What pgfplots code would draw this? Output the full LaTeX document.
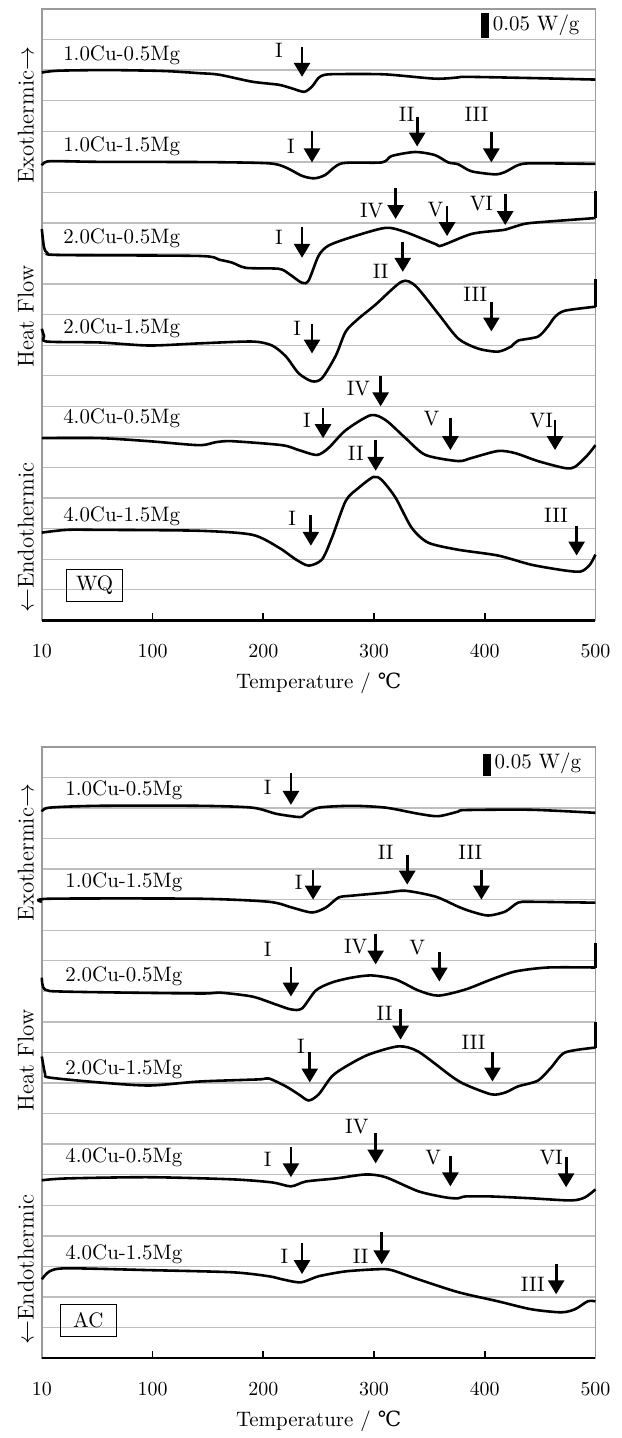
\documentclass[border=0pt]{standalone}
\usepackage{fontspec}
\usepackage{pgfplots}
\pgfplotsset{compat=1.18}
\usetikzlibrary{arrows.meta}
\newfontfamily\dejavu{DejaVu Serif}

\definecolor{gridgray}{HTML}{BEBEBE}
\definecolor{framegray}{HTML}{9A9A9A}

\pgfplotsset{
  dsc/.style={
    scale only axis, width=278pt, height=307pt,
    xmin=0, xmax=500, ymin=0, ymax=20,
    clip=false,
    xtick={0,100,...,500}, xticklabels={10,100,200,300,400,500},
    xtick pos=bottom, major tick length=3.5pt,
    x tick style={black, line width=0.9pt},
    ytick={1,...,19}, yticklabels={}, y tick style={draw=none},
    ymajorgrids, major grid style={draw=gridgray, line width=0.7pt},
    axis line style={draw=framegray, line width=0.8pt},
    tick label style={font=\fontsize{10}{12}\selectfont},
    xticklabel style={yshift=-8.5pt},
    xlabel={Temperature / {\dejavu ℃}},
    x label style={at={(axis description cs:0.5,0)}, anchor=center, yshift=-31.5pt,
      font=\fontsize{10.5}{12}\selectfont},
  },
  curve/.style={black, line width=1.3pt, smooth, tension=0.45, no marks},
  spike/.style={black, line width=1.3pt, no marks},
}
\tikzset{
  arr/.style={line width=1.4pt, -{Triangle[width=8pt,length=7pt]}},
  lab/.style={font=\fontsize{10.5}{12}\selectfont, inner sep=0pt},
  nm/.style={font=\fontsize{10.5}{12}\selectfont, inner sep=0pt, anchor=west},
  yl/.style={font=\fontsize{11.5}{13}\selectfont, rotate=90, anchor=center, inner sep=0pt},
}

\begin{document}
\begin{tikzpicture}
\path (0,0) rectangle (312pt,719pt);

% ---------------- WQ ----------------
\begin{axis}[dsc, at={(21pt,407.5pt)}, anchor=south west]
\addplot[curve] coordinates {(0,17.92) (15,17.98) (60,18.0) (110,17.97) (142,17.9) (160,17.85) (190,17.62) (214,17.52) (226,17.40) (237,17.29) (244,17.46) (250,17.75) (256,17.85) (270,17.87) (310,17.86) (355,17.72) (376,17.76) (383,17.78) (442,17.74) (500,17.69)};
\addplot[curve] coordinates {(0,14.88) (7,15.02) (50,15.0) (150,14.99) (205,14.95) (220,14.82) (235,14.54) (246,14.46) (256,14.57) (271,14.95) (307,14.98) (316,15.19) (337,15.32) (355,15.22) (367,14.98) (376,14.92) (388,14.69) (409,14.59) (418,14.66) (430,14.89) (442,14.95) (500,14.93)};
\addplot[curve] coordinates {(0,12.80) (2,12.2) (5,12.02) (16,11.95) (142,11.92) (160,11.80) (172,11.70) (184.5,11.53) (214,11.50) (223,11.34) (235,11.04) (241,11.12) (250,11.93) (259,12.26) (280,12.54) (310.5,12.84) (328.5,12.70) (355.5,12.31) (361,12.26) (388,12.64) (412,12.75) (418.5,12.78) (430,12.91) (442,13.0) (500,13.16)};
\addplot[spike] coordinates {(500,13.16) (500,14.05)};
\addplot[curve] coordinates {(0,9.54) (2,9.3) (4.5,9.12) (52,9.09) (97,8.99) (142,9.06) (190,9.12) (208,8.99) (220.5,8.63) (232,8.08) (244,7.82) (253,7.92) (265.5,8.66) (274.5,9.45) (286,9.87) (301.5,10.33) (325,11.08) (337.5,10.94) (358,10.03) (376,9.22) (394,8.89) (412,8.79) (424,8.96) (430,9.15) (448,9.28) (457,9.61) (463.5,9.93) (472.5,10.13) (500,10.26)};
\addplot[spike] coordinates {(500,10.26) (500,11.17)};
\addplot[curve] coordinates {(0,5.96) (52,5.96) (97,5.86) (142,5.73) (157.5,5.83) (172,5.86) (217,5.73) (232,5.57) (248.5,5.41) (259,5.64) (274.5,6.22) (297,6.71) (310.5,6.55) (328.5,5.96) (346.5,5.41) (376,5.21) (388,5.31) (412,5.54) (427.5,5.47) (448,5.21) (472.5,4.98) (481.5,5.02) (493,5.41) (500,5.73)};
\addplot[curve] coordinates {(0,2.87) (22.5,2.96) (52,2.96) (142,2.93) (190,2.80) (214,2.38) (229.5,1.99) (241,1.79) (253,1.99) (262,2.70) (274.5,3.91) (286,4.33) (299.5,4.69) (307,4.59) (319.5,4.01) (334,3.03) (349,2.54) (376,2.31) (412,2.12) (442,1.82) (472.5,1.63) (487,1.60) (495,1.82) (500,2.15)};

\draw[black, line width=1.2pt] (rel axis cs:0,0) -- (rel axis cs:1,0);
\fill[black] (axis cs:397,19.06) rectangle (axis cs:404,19.87);
\node[nm] at (axis cs:407,19.48) {0.05 W/g};
\node[draw=black, line width=0.6pt, minimum width=28pt, minimum height=16pt, inner sep=0pt,
  font=\fontsize{10.5}{12}\selectfont] at (axis cs:47.7,1.14) {WQ};

\node[nm] at (axis cs:19,18.50) {1.0Cu-0.5Mg};
\node[nm] at (axis cs:19,15.50) {1.0Cu-1.5Mg};
\node[nm] at (axis cs:19,12.51) {2.0Cu-0.5Mg};
\node[nm] at (axis cs:19,9.54) {2.0Cu-1.5Mg};
\node[nm] at (axis cs:19,6.61) {4.0Cu-0.5Mg};
\node[nm] at (axis cs:19,3.42) {4.0Cu-1.5Mg};

\draw[arr] (axis cs:235,18.76) -- (axis cs:235,17.78); \node[lab] at (axis cs:214,18.66) {I};
\draw[arr] (axis cs:244,16.0) -- (axis cs:244,14.98); \node[lab] at (axis cs:225,15.5) {I};
\draw[arr] (axis cs:339,16.48) -- (axis cs:339,15.5); \node[lab] at (axis cs:329.5,16.55) {II};
\draw[arr] (axis cs:406,15.99) -- (axis cs:406,14.98); \node[lab] at (axis cs:392.5,16.55) {III};
\draw[arr] (axis cs:235,12.87) -- (axis cs:235,11.86); \node[lab] at (axis cs:214,12.54) {I};
\draw[arr] (axis cs:319.5,14.14) -- (axis cs:319.5,13.13); \node[lab] at (axis cs:298,13.39) {IV};
\draw[arr] (axis cs:366,13.55) -- (axis cs:366,12.57); \node[lab] at (axis cs:355.5,13.45) {V};
\draw[arr] (axis cs:418.5,13.94) -- (axis cs:418.5,12.93); \node[lab] at (axis cs:397,13.62) {VI};
\draw[arr] (axis cs:244,9.71) -- (axis cs:244,8.73); \node[lab] at (axis cs:230.5,9.54) {I};
\draw[arr] (axis cs:326,12.38) -- (axis cs:326,11.40); \node[lab] at (axis cs:306,11.40) {II};
\draw[arr] (axis cs:406,10.42) -- (axis cs:406,9.45); \node[lab] at (axis cs:391.5,10.68) {III};
\draw[arr] (axis cs:254,6.94) -- (axis cs:254,5.96); \node[lab] at (axis cs:239.5,6.55) {I};
\draw[arr] (axis cs:306,7.98) -- (axis cs:306,7.0); \node[lab] at (axis cs:286,7.59) {IV};
\draw[arr] (axis cs:369,6.61) -- (axis cs:369,5.57); \node[lab] at (axis cs:352,6.61) {V};
\draw[arr] (axis cs:463.5,6.55) -- (axis cs:463.5,5.57); \node[lab] at (axis cs:451,6.55) {VI};
\draw[arr] (axis cs:243,3.45) -- (axis cs:243,2.44); \node[lab] at (axis cs:226,3.35) {I};
\draw[arr] (axis cs:301.5,5.90) -- (axis cs:301.5,4.89); \node[lab] at (axis cs:283.5,5.47) {II};
\draw[arr] (axis cs:483,3.09) -- (axis cs:483,2.12); \node[lab] at (axis cs:464.5,3.42) {III};

\node[yl] at ([xshift=-8pt]rel axis cs:0,0.826) {Exothermic$\rightarrow$};
\node[yl] at ([xshift=-8pt]rel axis cs:0,0.497) {Heat Flow};
\node[yl] at ([xshift=-8pt]rel axis cs:0,0.135) {$\leftarrow$Endothermic};
\end{axis}

% ---------------- AC ----------------
\begin{axis}[dsc, at={(21pt,37pt)}, anchor=south west]
\addplot[curve] coordinates {(0,17.88) (7,18.01) (52,18.07) (142,18.07) (190,18.01) (211.5,17.81) (229.5,17.71) (235,17.71) (238.5,17.81) (250,18.01) (280,18.07) (310.5,18.01) (340,17.81) (358,17.73) (376,17.88) (382.5,17.93) (442,17.94) (500,17.84)};
\addplot[curve] coordinates {(0,14.93) (7,15.03) (142,15.03) (205,14.93) (226,14.74) (244,14.58) (256.5,14.74) (268,15.07) (280,15.13) (310.5,15.23) (328.5,15.29) (355.5,15.10) (376,14.77) (388,14.61) (403,14.48) (418.5,14.61) (430,14.90) (442,14.93) (500,14.90)};
\addplot[curve] coordinates {(0,12.45) (2.7,12.06) (22.5,11.99) (142,11.93) (160,11.96) (190,11.83) (211.5,11.57) (225,11.41) (235,11.44) (247.5,12.03) (262,12.29) (280,12.45) (298,12.52) (319.5,12.39) (340,12.03) (358,11.86) (382.5,12.06) (406,12.39) (427.5,12.65) (457,12.78) (500,12.78)};
\addplot[spike] coordinates {(500,12.78) (500,13.59)};
\addplot[curve] coordinates {(0,9.87) (3,9.3) (7,9.18) (52,9.02) (97,8.92) (142,9.05) (196,9.12) (205,9.15) (220.5,8.89) (232,8.63) (241,8.43) (250,8.63) (262,9.22) (274.5,9.54) (295,9.93) (322,10.20) (340,10.03) (370,9.22) (382.5,8.95) (406,8.63) (418.5,8.69) (430,8.89) (448,9.08) (460,9.51) (472.5,10.0) (500,10.16)};
\addplot[spike] coordinates {(500,10.16) (500,11.01)};
\addplot[curve] coordinates {(0,5.82) (22.5,5.88) (97,5.92) (172,5.85) (208,5.75) (225,5.62) (238.5,5.78) (265.5,5.88) (292.5,6.01) (310.5,5.92) (340,5.46) (364.5,5.26) (376,5.23) (382.5,5.29) (406,5.29) (442,5.23) (478,5.16) (490.5,5.26) (500,5.52)};
\addplot[curve] coordinates {(0,2.58) (7,2.84) (22.5,2.94) (97,2.88) (172,2.81) (205,2.68) (217,2.58) (234,2.48) (250,2.68) (274.5,2.84) (304,2.91) (316,2.88) (340,2.58) (376,2.16) (412,1.86) (442,1.60) (469,1.50) (481.5,1.60) (493,1.86) (500,1.86)};

\draw[black, line width=1.2pt] (rel axis cs:0,0) -- (rel axis cs:1,0);
\fill[black] (axis cs:398.5,19.05) rectangle (axis cs:405.5,19.77);
\node[nm] at (axis cs:408.5,19.45) {0.05 W/g};
\node[draw=black, line width=0.6pt, minimum width=28pt, minimum height=16pt, inner sep=0pt,
  font=\fontsize{10.5}{12}\selectfont] at (axis cs:42,1.24) {AC};

\node[nm] at (axis cs:21,18.59) {1.0Cu-0.5Mg};
\node[nm] at (axis cs:21,15.56) {1.0Cu-1.5Mg};
\node[nm] at (axis cs:21,12.48) {2.0Cu-0.5Mg};
\node[nm] at (axis cs:21,9.44) {2.0Cu-1.5Mg};
\node[nm] at (axis cs:21,6.57) {4.0Cu-0.5Mg};
\node[nm] at (axis cs:21,3.40) {4.0Cu-1.5Mg};

\draw[arr] (axis cs:225,19.15) -- (axis cs:225,18.10); \node[lab] at (axis cs:204,18.66) {I};
\draw[arr] (axis cs:245,15.98) -- (axis cs:245,15.0); \node[lab] at (axis cs:232,15.56) {I};
\draw[arr] (axis cs:330,16.47) -- (axis cs:330,15.49); \node[lab] at (axis cs:310.5,16.54) {II};
\draw[arr] (axis cs:397,15.98) -- (axis cs:397,15.0); \node[lab] at (axis cs:387,16.54) {III};
\draw[arr] (axis cs:225,12.81) -- (axis cs:225,11.83); \node[lab] at (axis cs:204,13.37) {I};
\draw[arr] (axis cs:301.5,13.89) -- (axis cs:301.5,12.88); \node[lab] at (axis cs:283.5,13.46) {IV};
\draw[arr] (axis cs:359,13.30) -- (axis cs:359,12.32); \node[lab] at (axis cs:339,13.43) {V};
\draw[arr] (axis cs:242,10.0) -- (axis cs:242,9.02); \node[lab] at (axis cs:234,10.20) {I};
\draw[arr] (axis cs:324,11.41) -- (axis cs:324,10.42); \node[lab] at (axis cs:309.5,11.27) {II};
\draw[arr] (axis cs:407,10.0) -- (axis cs:407,9.05); \node[lab] at (axis cs:390,10.33) {III};
\draw[arr] (axis cs:225,6.90) -- (axis cs:225,5.92); \node[lab] at (axis cs:204,6.50) {I};
\draw[arr] (axis cs:301.5,7.35) -- (axis cs:301.5,6.37); \node[lab] at (axis cs:284.5,7.58) {IV};
\draw[arr] (axis cs:369,6.60) -- (axis cs:369,5.62); \node[lab] at (axis cs:353.5,6.57) {V};
\draw[arr] (axis cs:473.5,6.57) -- (axis cs:473.5,5.59); \node[lab] at (axis cs:460,6.57) {VI};
\draw[arr] (axis cs:235,3.76) -- (axis cs:235,2.75); \node[lab] at (axis cs:219,3.33) {I};
\draw[arr] (axis cs:307,4.12) -- (axis cs:307,3.07); \node[lab] at (axis cs:288,3.33) {II};
\draw[arr] (axis cs:464.5,3.07) -- (axis cs:464.5,2.09); \node[lab] at (axis cs:443.5,2.42) {III};

\node[yl] at ([xshift=-8pt]rel axis cs:0,0.827) {Exothermic$\rightarrow$};
\node[yl] at ([xshift=-8pt]rel axis cs:0,0.487) {Heat Flow};
\node[yl] at ([xshift=-8pt]rel axis cs:0,0.145) {$\leftarrow$Endothermic};
\end{axis}
\end{tikzpicture}
\end{document}
